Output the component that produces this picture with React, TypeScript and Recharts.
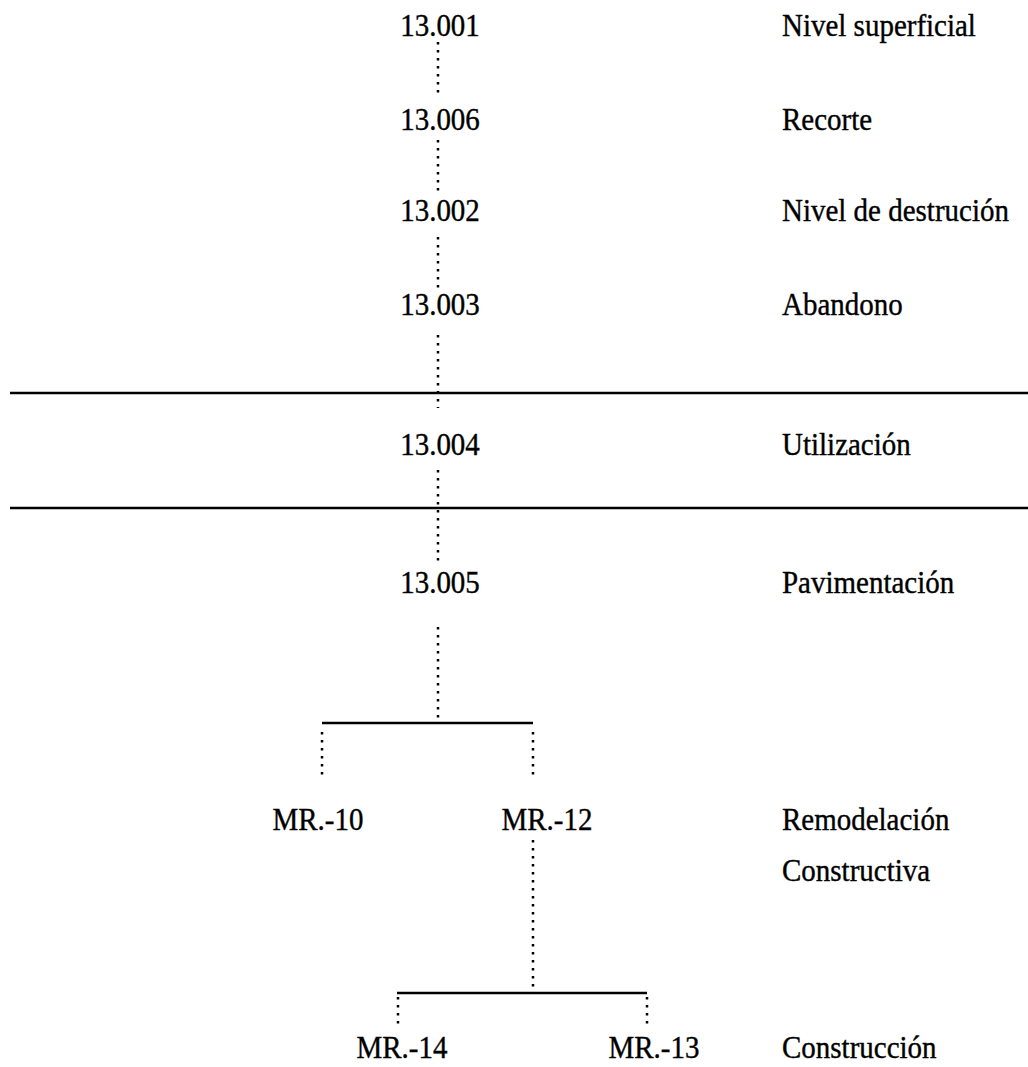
import React from 'react';
import { ScatterChart, Scatter, XAxis, YAxis, ReferenceLine } from 'recharts';

const WIDTH = 1028;
const HEIGHT = 1067;

// stratigraphic units on the main column
const unitNames = ['13.001', '13.006', '13.002', '13.003', '13.004', '13.005'];
const unitBaselines = [36, 130, 221, 315, 455, 593];
const unitColumn = 440;

// interpretation labels on the right
const phaseNames = [
  'Nivel superficial',
  'Recorte',
  'Nivel de destrución',
  'Abandono',
  'Utilización',
  'Pavimentación',
  'Remodelación',
  'Constructiva',
  'Construcción',
];
const phaseBaselines = [36, 130, 221, 315, 455, 593, 830, 881, 1058];
const phaseColumn = 782;

// walls
const wallNames = ['MR.-10', 'MR.-12', 'MR.-14', 'MR.-13'];
const wallX = [318, 547, 402, 654];
const wallBaselines = [830, 830, 1058, 1058];

// phase boundaries (solid full-width lines)
const boundaryY = [393, 508];

// dotted links
const stemX = 438;
const stemSegments: [number, number][] = [
  [42, 98],
  [140, 196],
  [237, 290],
  [335, 408],
  [470, 566],
  [627, 723],
];
const branches = [
  { y: 723, x1: 322, x2: 533 },
  { y: 993, x1: 397, x2: 647 },
];
const drops = [
  { x: 322, y1: 732, y2: 780 },
  { x: 533, y1: 732, y2: 780 },
  { x: 533, y1: 840, y2: 990 },
  { x: 398, y1: 997, y2: 1027 },
  { x: 647, y1: 997, y2: 1027 },
];

const unitData = unitNames.map((label, i) => ({ x: unitColumn, y: unitBaselines[i], label }));
const phaseData = phaseNames.map((label, i) => ({ x: phaseColumn, y: phaseBaselines[i], label }));
const wallData = wallNames.map((label, i) => ({ x: wallX[i], y: wallBaselines[i], label }));

const FONT = "'Liberation Serif', 'Times New Roman', 'DejaVu Serif', serif";

// scanned original has slightly tall, heavy glyphs
const makeLabel = (anchor: 'start' | 'middle') => (props: any) => (
  <text
    x={0}
    y={0}
    transform={`translate(${props.cx},${props.cy}) scale(1,1.12)`}
    textAnchor={anchor}
    style={{ fontFamily: FONT, fontSize: 29 }}
    fill="#000"
    stroke="#000"
    strokeWidth={0.35}
  >
    {props.payload.label}
  </text>
);

const dotted = { stroke: '#000', strokeWidth: 2.5, strokeDasharray: '2.5 5.5' };

export default function App() {
  return (
    <div style={{ position: 'absolute', left: 0, top: 0, width: WIDTH, height: HEIGHT, background: '#fff' }}>
      <ScatterChart width={WIDTH} height={HEIGHT} margin={{ top: 0, right: 0, bottom: 0, left: 0 }}>
        <XAxis type="number" dataKey="x" domain={[0, WIDTH]} hide />
        <YAxis type="number" dataKey="y" domain={[0, HEIGHT]} reversed hide />

        {boundaryY.map((y) => (
          <ReferenceLine
            key={'b' + y}
            segment={[{ x: 10, y }, { x: WIDTH, y }]}
            stroke="#000"
            strokeWidth={2.5}
            ifOverflow="visible"
          />
        ))}

        {stemSegments.map(([y1, y2]) => (
          <ReferenceLine
            key={'s' + y1}
            segment={[{ x: stemX, y: y1 }, { x: stemX, y: y2 }]}
            {...dotted}
            ifOverflow="visible"
          />
        ))}

        {branches.map((b) => (
          <ReferenceLine
            key={'br' + b.y}
            segment={[{ x: b.x1, y: b.y }, { x: b.x2, y: b.y }]}
            stroke="#000"
            strokeWidth={2.5}
            ifOverflow="visible"
          />
        ))}

        {drops.map((d) => (
          <ReferenceLine
            key={'d' + d.x + '-' + d.y1}
            segment={[{ x: d.x, y: d.y1 }, { x: d.x, y: d.y2 }]}
            {...dotted}
            ifOverflow="visible"
          />
        ))}

        <Scatter data={unitData} isAnimationActive={false} shape={makeLabel('middle')} />
        <Scatter data={wallData} isAnimationActive={false} shape={makeLabel('middle')} />
        <Scatter data={phaseData} isAnimationActive={false} shape={makeLabel('start')} />
      </ScatterChart>
    </div>
  );
}
